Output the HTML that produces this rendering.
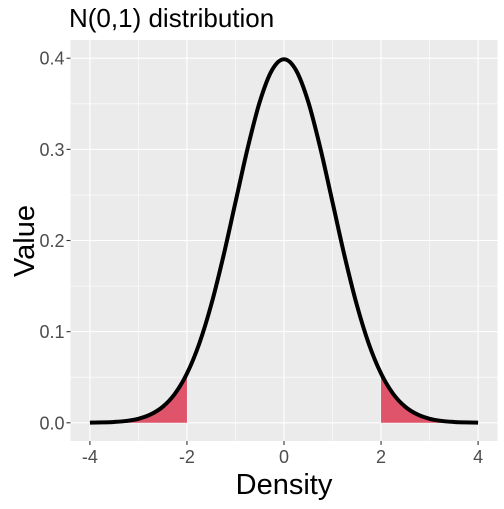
<!DOCTYPE html>
<html><head><meta charset="utf-8"><style>
body{margin:0;background:#fff}
svg text{font-family:"Liberation Sans",sans-serif}
</style></head><body>
<svg id="chart" width="504" height="504" viewBox="0 0 504 504" xmlns="http://www.w3.org/2000/svg">
<rect x="0" y="0" width="504" height="504" fill="#fff"/>
<g id="panel"></g>
<text x="69" y="27" font-size="26" fill="#000">N(0,1) distribution</text>
<text x="284" y="494" font-size="29" text-anchor="middle" fill="#000">Density</text>
<text transform="translate(34,241) rotate(-90)" font-size="29" text-anchor="middle" fill="#000">Value</text>
</svg>
<script>
const xVals=[-4,-3.75,-3.5,-3.25,-3,-2.75,-2.5,-2.25,-2,-1.75,-1.5,-1.25,-1,-0.75,-0.5,-0.25,0,0.25,0.5,0.75,1,1.25,1.5,1.75,2,2.25,2.5,2.75,3,3.25,3.5,3.75,4];
const densVals=[0.0001,0.0004,0.0009,0.0020,0.0044,0.0091,0.0175,0.0317,0.0540,0.0863,0.1295,0.1826,0.2420,0.3011,0.3521,0.3867,0.3989,0.3867,0.3521,0.3011,0.2420,0.1826,0.1295,0.0863,0.0540,0.0317,0.0175,0.0091,0.0044,0.0020,0.0009,0.0004,0.0001];
const xTicks=[-4,-2,0,2,4];
const yTicks=[0,0.1,0.2,0.3,0.4];
const yTickLabels=["0.0","0.1","0.2","0.3","0.4"];
const tailCut=2;

const X0=70.5,X1=497.5,Y0=40,Y1=441;
const xMin=-4.4,xMax=4.4,yMin=-0.02,yMax=0.42;
const sx=v=>X0+(v-xMin)/(xMax-xMin)*(X1-X0);
const sy=v=>Y1-(v-yMin)/(yMax-yMin)*(Y1-Y0);
const NS="http://www.w3.org/2000/svg";
const g=document.getElementById('panel');
function mk(t,a){const e=document.createElementNS(NS,t);for(const k in a)e.setAttribute(k,a[k]);g.appendChild(e);return e;}

const bg=mk('rect',{x:X0,y:Y0,width:X1-X0,height:Y1-Y0,fill:'#EBEBEB'});



for(let i=0;i<xTicks.length-1;i++){const v=(xTicks[i]+xTicks[i+1])/2;
 const l=mk('line',{x1:sx(v),x2:sx(v),y1:Y0,y2:Y1,stroke:'#fff','stroke-width':0.55});
 
 }
for(let i=0;i<yTicks.length-1;i++){const v=(yTicks[i]+yTicks[i+1])/2;
 const l=mk('line',{x1:X0,x2:X1,y1:sy(v),y2:sy(v),stroke:'#fff','stroke-width':0.55});
 
 }
xTicks.forEach(v=>{
 const l=mk('line',{x1:sx(v),x2:sx(v),y1:Y0,y2:Y1,stroke:'#fff','stroke-width':1.1});
 
 
 const t=mk('line',{x1:sx(v),x2:sx(v),y1:Y1,y2:Y1+4,stroke:'#333','stroke-width':1.1});
 
 
 const tx=mk('text',{x:sx(v),y:Y1+22,'font-size':18,'text-anchor':'middle',fill:'#4D4D4D'});
 tx.textContent=String(v);
 
 
});
yTicks.forEach((v,i)=>{
 const l=mk('line',{x1:X0,x2:X1,y1:sy(v),y2:sy(v),stroke:'#fff','stroke-width':1.1});
 
 
 const t=mk('line',{x1:X0-4,x2:X0,y1:sy(v),y2:sy(v),stroke:'#333','stroke-width':1.1});
 
 
 const tx=mk('text',{x:X0-6,y:sy(v)+6.5,'font-size':18,'text-anchor':'end',fill:'#4D4D4D'});
 tx.textContent=yTickLabels[i];
 
 
});

function spline(idx){
 const p=idx.map(i=>[sx(xVals[i]),sy(densVals[i])]);
 let d='M'+p[0][0]+','+p[0][1];
 for(let i=0;i<p.length-1;i++){
  const a=p[Math.max(i-1,0)],b=p[i],c=p[i+1],e=p[Math.min(i+2,p.length-1)];
  d+=' C'+(b[0]+(c[0]-a[0])/6)+','+(b[1]+(c[1]-a[1])/6)+' '+(c[0]-(e[0]-b[0])/6)+','+(c[1]-(e[1]-b[1])/6)+' '+c[0]+','+c[1];
 }
 return d;
}
const all=xVals.map((_,i)=>i);
const left=all.filter(i=>xVals[i]<=-tailCut);
const right=all.filter(i=>xVals[i]>=tailCut);
[[left,'left-tail-area'],[right,'right-tail-area']].forEach(([idx,name])=>{
 const d=spline(idx)+' L'+sx(xVals[idx[idx.length-1]])+','+sy(0)+' L'+sx(xVals[idx[0]])+','+sy(0)+'Z';
 const a=mk('path',{d:d,fill:'#DF536B'});
 
 
});
const c=mk('path',{d:spline(all),fill:'none',stroke:'#000','stroke-width':4,'stroke-linejoin':'round'});


</script>
</body></html>
